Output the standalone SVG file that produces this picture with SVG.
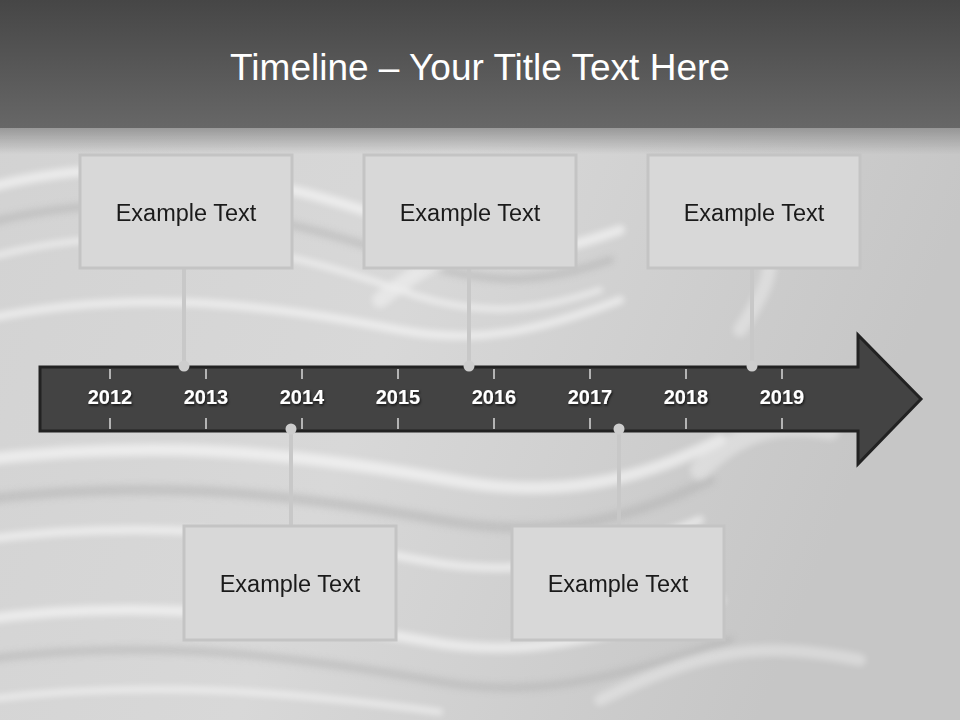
<svg xmlns="http://www.w3.org/2000/svg" width="960" height="720" viewBox="0 0 960 720">
<defs>
<linearGradient id="hdr" x1="0" y1="0" x2="0" y2="1">
<stop offset="0" stop-color="#464646"/>
<stop offset="1" stop-color="#676767"/>
</linearGradient>
<linearGradient id="bg" x1="0" y1="0" x2="1" y2="0.3">
<stop offset="0" stop-color="#d2d2d2"/>
<stop offset="0.5" stop-color="#d8d8d8"/>
<stop offset="1" stop-color="#c6c6c6"/>
</linearGradient>
<linearGradient id="fade" x1="0" y1="0" x2="0" y2="1">
<stop offset="0" stop-color="#8a8a8a" stop-opacity="0.8"/>
<stop offset="1" stop-color="#8a8a8a" stop-opacity="0"/>
</linearGradient>
<filter id="blur" x="-10%" y="-10%" width="120%" height="120%">
<feGaussianBlur stdDeviation="3"/>
</filter>
<filter id="sh" x="-20%" y="-20%" width="140%" height="140%">
<feDropShadow dx="1" dy="1.5" stdDeviation="1" flood-color="#000" flood-opacity="0.7"/>
</filter>
</defs>
<style>
.wave{fill:none;stroke:#ffffff;stroke-linecap:round}
.dwave{fill:none;stroke:#b4b4b4;stroke-linecap:round}
.box{fill:#d8d8d8;stroke:#c4c4c4;stroke-width:3}
.lbl{font-family:"Liberation Sans",Arial,sans-serif;font-size:23.5px;fill:#1a1a1a;text-anchor:middle}
.yr{font-family:"Liberation Sans",Arial,sans-serif;font-size:20px;font-weight:bold;fill:#ffffff;text-anchor:middle}
.tick{stroke:#ffffff;stroke-width:1.2}
.conn{stroke:#c8c8c8;stroke-width:4}
.dot{fill:#cdcdcd}
</style>
<rect x="0" y="0" width="960" height="720" fill="url(#bg)"/>
<g id="waves" filter="url(#blur)" opacity="0.55">
<path class="wave" stroke-width="10" d="M-20,190 C120,150 260,170 420,230 C520,265 560,250 620,230"/>
<path class="dwave" stroke-width="8" d="M-20,225 C110,190 240,200 410,260 C500,290 550,280 610,260"/>
<path class="wave" stroke-width="6" d="M-20,260 C100,225 230,230 400,290 C480,320 540,310 600,290"/>
<path class="wave" stroke-width="8" d="M-20,320 C120,290 250,300 400,330 C480,345 540,330 620,300"/>
<path class="wave" stroke-width="12" d="M-20,460 C150,440 280,450 450,480 C560,500 640,480 720,440"/>
<path class="dwave" stroke-width="10" d="M-20,500 C140,480 270,490 440,520 C550,540 630,520 710,480"/>
<path class="wave" stroke-width="8" d="M-20,540 C130,520 260,530 420,560 C520,580 600,560 700,520"/>
<path class="wave" stroke-width="10" d="M-20,620 C120,600 250,610 420,640 C520,660 600,640 720,600"/>
<path class="dwave" stroke-width="8" d="M-20,660 C130,640 260,650 430,680 C530,700 610,680 730,640"/>
<path class="wave" stroke-width="6" d="M-20,700 C140,680 280,690 440,712"/>
<path class="wave" stroke-width="16" opacity="0.7" d="M380,300 C430,260 470,240 520,250"/>
<path class="wave" stroke-width="20" opacity="0.6" d="M700,470 C740,430 780,420 830,430"/>
<path class="wave" stroke-width="12" opacity="0.6" d="M600,700 C700,650 760,640 860,660"/>
<path class="wave" stroke-width="14" opacity="0.6" d="M740,330 C760,300 770,280 770,260"/>
</g>
<rect x="0" y="128" width="960" height="26" fill="url(#fade)"/>
<rect x="0" y="0" width="960" height="128" fill="url(#hdr)"/>
<text x="480" y="80" font-family="Liberation Sans,Arial,sans-serif" font-size="37" fill="#ffffff" text-anchor="middle">Timeline – Your Title Text Here</text>
<g id="connectors">
<line class="conn" x1="184" y1="268" x2="184" y2="366"/>
<line class="conn" x1="469" y1="268" x2="469" y2="366"/>
<line class="conn" x1="752" y1="268" x2="752" y2="366"/>
<line class="conn" x1="291" y1="429" x2="291" y2="526"/>
<line class="conn" x1="619" y1="429" x2="619" y2="526"/>
</g>
<g id="timeline">
<path d="M40,367 L858,367 L858,335 L921,399 L858,464 L858,431 L40,431 Z" fill="#434343" stroke="#222222" stroke-width="3" stroke-linejoin="miter"/>
<g id="ticks">
<line class="tick" x1="110" y1="369" x2="110" y2="379"/><line class="tick" x1="110" y1="418" x2="110" y2="429"/>
<line class="tick" x1="206" y1="369" x2="206" y2="379"/><line class="tick" x1="206" y1="418" x2="206" y2="429"/>
<line class="tick" x1="302" y1="369" x2="302" y2="379"/><line class="tick" x1="302" y1="418" x2="302" y2="429"/>
<line class="tick" x1="398" y1="369" x2="398" y2="379"/><line class="tick" x1="398" y1="418" x2="398" y2="429"/>
<line class="tick" x1="494" y1="369" x2="494" y2="379"/><line class="tick" x1="494" y1="418" x2="494" y2="429"/>
<line class="tick" x1="590" y1="369" x2="590" y2="379"/><line class="tick" x1="590" y1="418" x2="590" y2="429"/>
<line class="tick" x1="686" y1="369" x2="686" y2="379"/><line class="tick" x1="686" y1="418" x2="686" y2="429"/>
<line class="tick" x1="782" y1="369" x2="782" y2="379"/><line class="tick" x1="782" y1="418" x2="782" y2="429"/>
</g>
<g id="years" filter="url(#sh)">
<text class="yr" x="110" y="404">2012</text>
<text class="yr" x="206" y="404">2013</text>
<text class="yr" x="302" y="404">2014</text>
<text class="yr" x="398" y="404">2015</text>
<text class="yr" x="494" y="404">2016</text>
<text class="yr" x="590" y="404">2017</text>
<text class="yr" x="686" y="404">2018</text>
<text class="yr" x="782" y="404">2019</text>
</g>
</g>
<g id="dots">
<circle class="dot" cx="184" cy="366" r="5.5"/>
<circle class="dot" cx="469" cy="366" r="5.5"/>
<circle class="dot" cx="752" cy="366" r="5.5"/>
<circle class="dot" cx="291" cy="429" r="5.5"/>
<circle class="dot" cx="619" cy="429" r="5.5"/>
</g>
<g id="node1"><rect class="box" x="80" y="155" width="212" height="113"/><text class="lbl" x="186" y="221">Example Text</text></g>
<g id="node2"><rect class="box" x="364" y="155" width="212" height="113"/><text class="lbl" x="470" y="221">Example Text</text></g>
<g id="node3"><rect class="box" x="648" y="155" width="212" height="113"/><text class="lbl" x="754" y="221">Example Text</text></g>
<g id="node4"><rect class="box" x="184" y="526" width="212" height="114"/><text class="lbl" x="290" y="592">Example Text</text></g>
<g id="node5"><rect class="box" x="512" y="526" width="212" height="114"/><text class="lbl" x="618" y="592">Example Text</text></g>
</svg>
